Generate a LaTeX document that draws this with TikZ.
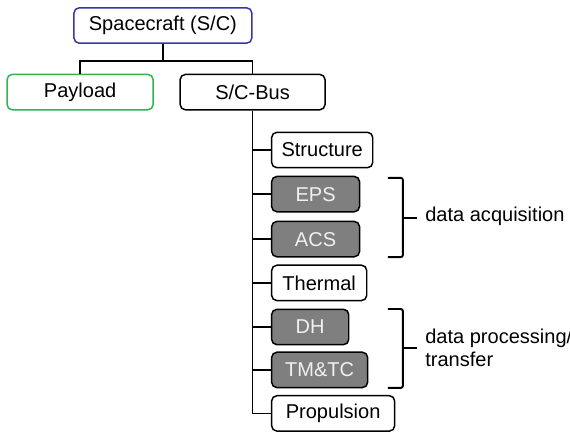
\documentclass[tikz,border=0pt]{standalone}
\usepackage{fontspec}
\setmainfont{Liberation Sans}
\definecolor{scblue}{HTML}{3636A6}
\definecolor{plgreen}{HTML}{2DB550}
\definecolor{subgray}{HTML}{7F7F7F}
\tikzset{
  blk/.style={draw, line width=1.4pt, rounded corners=5pt, minimum height=1.18cm, inner sep=0pt, font=\fontsize{19}{22}\selectfont},
  sub/.style={blk, anchor=west, fill=white},
  subdark/.style={sub, fill=subgray, text=white!94!black},
  wire/.style={line width=1.4pt},
  brk/.style={line width=1.8pt, rounded corners=2pt},
  lbl/.style={anchor=west, font=\fontsize{19}{22}\selectfont, align=left, inner sep=0pt}
}
\begin{document}
\begin{tikzpicture}
\useasboundingbox (0,0) rectangle (19,-14.4);
\node[blk, draw=scblue, minimum width=5.93cm] (sc) at (5.43,-0.85) {Spacecraft (S/C)};
\node[blk, draw=plgreen, minimum width=4.87cm] (pl) at (2.67,-3.07) {Payload};
\node[blk, minimum width=4.83cm] (bus) at (8.42,-3.07) {S/C-Bus};
\node[sub, minimum width=3.37cm] (struct) at (9.03,-5.0) {Structure};
\node[subdark, minimum width=2.93cm] (eps) at (9.03,-6.47) {EPS};
\node[subdark, minimum width=2.93cm] (acs) at (9.03,-7.97) {ACS};
\node[sub, minimum width=3.17cm] (therm) at (9.03,-9.43) {Thermal};
\node[subdark, minimum width=2.57cm] (dh) at (9.03,-10.9) {DH};
\node[subdark, minimum width=3.2cm] (tmtc) at (9.03,-12.33) {TM\&TC};
\node[sub, minimum width=4.1cm] (prop) at (9.03,-13.78) {Propulsion};
\draw[wire] (sc.south) -- ++(0,-0.57) coordinate (split);
\draw[wire] (split) -| (pl.north);
\draw[wire] (split) -| (bus.north);
\draw[wire] (bus.south) |- (prop.west);
\foreach \n in {struct,eps,acs,therm,dh,tmtc}
  \draw[wire] (bus.south |- \n.west) -- (\n.west);
\draw[brk] (12.93,-5.93) -- (13.43,-5.93) -- (13.43,-8.57) -- (12.93,-8.57);
\draw[line width=1.8pt] (13.43,-7.27) -- (13.9,-7.27) coordinate (tipa);
\node[lbl] (acq) at (14.17,-7.2) {data acquisition};
\draw[brk] (12.93,-10.3) -- (13.43,-10.3) -- (13.43,-12.93) -- (12.93,-12.93);
\draw[line width=1.8pt] (13.43,-11.6) -- (13.9,-11.6) coordinate (tipb);
\node[lbl] (proc) at (14.17,-11.6) {data processing/\\transfer};
\end{tikzpicture}
\end{document}
